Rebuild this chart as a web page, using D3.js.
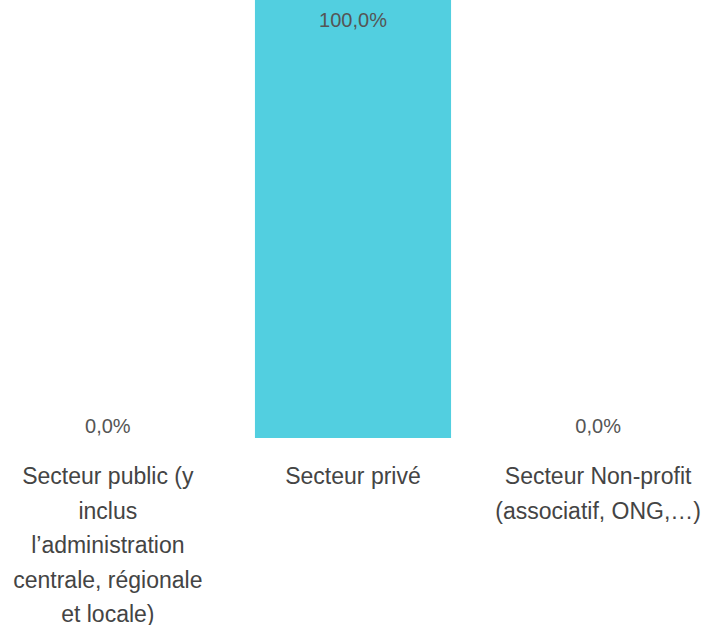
<!DOCTYPE html>
<meta charset="utf-8">
<style>
html, body {
  margin: 0;
  background: #fff;
}

.chart text {
  font-family: "Liberation Sans", Arial, sans-serif;
}

.chart .bar {
  fill: #52cfe0;
}

.chart .value {
  font-size: 20px;
  fill: #555;
  text-anchor: middle;
}

.chart .category {
  font-size: 23px;
  fill: #444;
  text-anchor: middle;
}
</style>
<body>
<svg class="chart" width="706" height="625"></svg>

<script src="https://d3js.org/d3.v7.min.js"></script>
<script>
"use strict";

var categories = [
  "Secteur public (y inclus l\u2019administration centrale, régionale et locale)",
  "Secteur privé",
  "Secteur Non-profit (associatif, ONG,\u2026)"
];
var values = [0, 100, 0];
var valueLabels = ["0,0%", "100,0%", "0,0%"];

var width = 706,
  baseline = 438,
  wrapWidth = 209,
  lineHeight = 34.5;

var svg = d3.select(".chart");

var x = d3.scaleBand()
  .domain(categories)
  .range([0, width])
  .paddingInner(0.2)
  .paddingOuter(0.04);

var y = d3.scaleLinear()
  .domain([0, 100])
  .range([baseline, -20]);

var data = categories.map(function(c, i) {
  return { name: c, value: values[i], label: valueLabels[i] };
});

svg.selectAll(".bar")
  .data(data)
  .enter().append("rect")
  .attr("class", "bar")
  .attr("x", function(d) { return x(d.name); })
  .attr("y", function(d) { return y(d.value); })
  .attr("width", x.bandwidth())
  .attr("height", function(d) { return baseline - y(d.value); });

svg.selectAll(".value")
  .data(data)
  .enter().append("text")
  .attr("class", "value")
  .attr("x", function(d) { return x(d.name) + x.bandwidth() / 2; })
  .attr("y", function(d) { return Math.max(y(d.value) - 5, 27); })
  .text(function(d) { return d.label; });

// category labels under the bars, wrapped
var cats = svg.selectAll(".category")
  .data(data)
  .enter().append("text")
  .attr("class", "category")
  .attr("x", function(d) { return x(d.name) + x.bandwidth() / 2; })
  .attr("y", 484);

cats.each(function(d) {
  var text = d3.select(this),
    cx = text.attr("x"),
    words = d.name.split(" "),
    line = [],
    tspan = text.append("tspan").attr("x", cx).attr("dy", 0);
  words.forEach(function(w) {
    line.push(w);
    tspan.text(line.join(" "));
    if (tspan.node().getComputedTextLength() > wrapWidth && line.length > 1) {
      line.pop();
      tspan.text(line.join(" "));
      line = [w];
      tspan = text.append("tspan").attr("x", cx).attr("dy", lineHeight).text(w);
    }
  });
});
</script>
</body>
